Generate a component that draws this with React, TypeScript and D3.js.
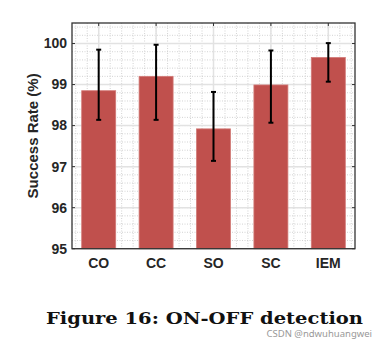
import React from "react";
import * as d3 from "d3";

const categories = ["CO", "CC", "SO", "SC", "IEM"];
const means = [98.85, 99.2, 97.92, 98.99, 99.66];
const errHigh = [99.85, 99.97, 98.82, 99.83, 100.01];
const errLow = [98.14, 98.14, 97.14, 98.07, 99.07];
const yTicks = [95, 96, 97, 98, 99, 100];
const yLabel = "Success Rate (%)";
const caption = "Figure 16: ON-OFF detection";
const watermark = "CSDN @ndwuhuangwei";

export default function App() {
  const W = 387, H = 356;
  const left = 72, right = 355, top = 23, bottom = 248.7;
  const x = d3.scaleLinear().domain([0.535, 5.465]).range([left, right]);
  const y = d3.scaleLinear().domain([95, 100.5]).range([bottom, top]);
  const barW = 34;
  const minorX = d3.range(0.6, 5.41, 0.2);
  const minorY = d3.range(95.2, 100.41, 0.2);
  const font = "'Liberation Sans', Arial, sans-serif";
  return (
    <svg width={W} height={H} style={{ position: "absolute", left: 0, top: 0, background: "#fff" }}>
      <rect x={0} y={0} width={W} height={H} fill="#fff" />
      {minorX.map((v, i) => (
        <line key={"mx" + i} x1={x(v)} x2={x(v)} y1={top} y2={bottom} stroke="#c8c8c8" strokeWidth={0.8} strokeDasharray="1,1.5" />
      ))}
      {minorY.map((v, i) => (
        <line key={"my" + i} x1={left} x2={right} y1={y(v)} y2={y(v)} stroke="#c8c8c8" strokeWidth={0.8} strokeDasharray="1,1.5" />
      ))}
      {categories.map((c, i) => (
        <line key={"gx" + c} x1={x(i + 1)} x2={x(i + 1)} y1={top} y2={bottom} stroke="#e2e2e2" strokeWidth={1.5} />
      ))}
      {yTicks.map((t) => (
        <line key={"gy" + t} x1={left} x2={right} y1={y(t)} y2={y(t)} stroke="#e2e2e2" strokeWidth={1.5} />
      ))}
      {categories.map((c, i) => (
        <rect key={"b" + c} x={x(i + 1) - barW / 2} y={y(means[i])} width={barW} height={y(95) - y(means[i])} fill="#c0504d" stroke="#d27a77" strokeWidth={0.8} />
      ))}
      {categories.map((c, i) => (
        <g key={"e" + c} stroke="#000" strokeWidth={2}>
          <line x1={x(i + 1)} x2={x(i + 1)} y1={y(errHigh[i])} y2={y(errLow[i])} />
          <line x1={x(i + 1) - 2.5} x2={x(i + 1) + 2.5} y1={y(errHigh[i])} y2={y(errHigh[i])} />
          <line x1={x(i + 1) - 2.5} x2={x(i + 1) + 2.5} y1={y(errLow[i])} y2={y(errLow[i])} />
        </g>
      ))}
      {categories.map((c, i) => (
        <line key={"tx" + c} x1={x(i + 1)} x2={x(i + 1)} y1={top} y2={top + 3} stroke="#333" strokeWidth={1} />
      ))}
      {yTicks.map((t) => (
        <g key={"ty" + t} stroke="#333" strokeWidth={1}>
          <line x1={left} x2={left + 3} y1={y(t)} y2={y(t)} />
          <line x1={right - 3} x2={right} y1={y(t)} y2={y(t)} />
        </g>
      ))}
      <rect x={left} y={top} width={right - left} height={bottom - top} fill="none" stroke="#333" strokeWidth={1.3} />
      {yTicks.map((t) => (
        <text key={"yl" + t} x={left - 5} y={y(t)} dy="0.35em" textAnchor="end" fontFamily={font} fontWeight="bold" fontSize={14} fill="#262626">
          {t}
        </text>
      ))}
      {categories.map((c, i) => (
        <text key={"xl" + c} x={x(i + 1)} y={268} textAnchor="middle" fontFamily={font} fontWeight="bold" fontSize={14} fill="#262626">
          {c}
        </text>
      ))}
      <text transform={`translate(38,${(top + bottom) / 2}) rotate(-90)`} textAnchor="middle" fontFamily={font} fontWeight="bold" fontSize={15} fill="#262626">
        {yLabel}
      </text>
      <text x={46} y={324} textLength={317} lengthAdjust="spacingAndGlyphs" fontFamily="'DejaVu Serif', 'Liberation Serif', serif" fontWeight="bold" fontSize={17.5} fill="#111">
        {caption}
      </text>
      <text x={372} y={337} textAnchor="end" fontFamily="'Noto Sans', sans-serif" fontSize={9.5} fill="#999">
        {watermark}
      </text>
    </svg>
  );
}
